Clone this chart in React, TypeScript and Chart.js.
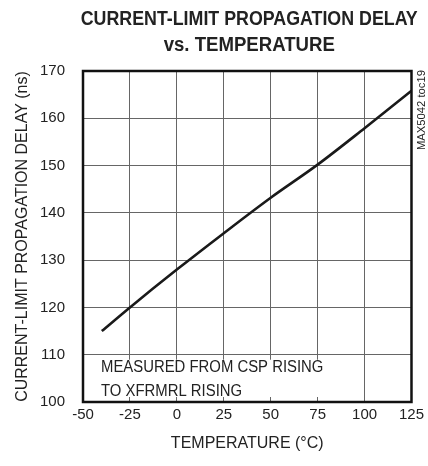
import React, { useEffect, useRef } from "react";
import { Chart, registerables } from "chart.js";

Chart.register(...registerables);

const temperatures = [-40, -25, 0, 25, 50, 75, 100, 125];
const delays = [115, 120, 128, 135.7, 143.2, 150.2, 157.9, 165.8];
const titleLines = ["CURRENT-LIMIT PROPAGATION DELAY", "vs. TEMPERATURE"];
const xTitle = "TEMPERATURE (°C)";
const yTitle = "CURRENT-LIMIT PROPAGATION DELAY (ns)";
const noteLines = ["MEASURED FROM CSP RISING", "TO XFRMRL RISING"];
const tocLabel = "MAX5042 toc19";

const FONT = "'Liberation Sans', Arial, sans-serif";

function narrowText(ctx: any, text: string, x: number, y: number, squeeze: number) {
  const w = ctx.measureText(text).width;
  ctx.fillText(text, x, y, w * squeeze);
}

const decorPlugin = {
  id: "decor",
  beforeDatasetsDraw(chart: any) {
    const { ctx, chartArea, scales } = chart;
    const x = scales.x;
    const y = scales.y;
    const left = chartArea.left + 1;
    const right = x.getPixelForValue(100) - 1;
    const top = y.getPixelForValue(110) + 5;
    const bottom = y.getPixelForValue(100) - 5;
    ctx.save();
    ctx.fillStyle = "#ffffff";
    ctx.fillRect(left, top, right - left, bottom - top);
    ctx.restore();
  },
  afterDatasetsDraw(chart: any) {
    const { ctx, chartArea, scales } = chart;
    const y = scales.y;
    ctx.save();
    ctx.strokeStyle = "#111";
    ctx.lineWidth = 2.5;
    ctx.strokeRect(chartArea.left, chartArea.top, chartArea.right - chartArea.left, chartArea.bottom - chartArea.top);

    // title
    ctx.fillStyle = "#222";
    ctx.textAlign = "center";
    ctx.textBaseline = "middle";
    ctx.font = `bold 20px ${FONT}`;
    const cx = (chartArea.left + chartArea.right) / 2 + 2;
    ctx.fillText(titleLines[0], cx, chartArea.top - 52, 337);
    narrowText(ctx, titleLines[1], cx, chartArea.top - 26, 0.93);

    // note
    ctx.font = `16px ${FONT}`;
    ctx.textAlign = "left";
    const y110 = y.getPixelForValue(110);
    narrowText(ctx, noteLines[0], chartArea.left + 18, y110 + 13, 0.93);
    narrowText(ctx, noteLines[1], chartArea.left + 18, y110 + 36.5, 0.93);

    // side label
    ctx.translate(chartArea.right + 10, chartArea.top + 39);
    ctx.rotate(-Math.PI / 2);
    ctx.textAlign = "center";
    ctx.font = `11.5px ${FONT}`;
    ctx.fillText(tocLabel, 0, 0, 80);
    ctx.restore();
  },
};

export default function App() {
  const ref = useRef<HTMLCanvasElement>(null);
  useEffect(() => {
    if (!ref.current) return;
    const chart = new Chart(ref.current, {
      type: "line",
      data: {
        datasets: [
          {
            data: temperatures.map((t, i) => ({ x: t, y: delays[i] })),
            borderColor: "#1a1a1a",
            borderWidth: 2.6,
            pointRadius: 0,
            cubicInterpolationMode: "monotone",
            fill: false,
          },
        ],
      },
      options: {
        animation: false,
        responsive: true,
        maintainAspectRatio: false,
        layout: { padding: { left: 0, right: 15, top: 71, bottom: 0 } },
        plugins: {
          legend: { display: false },
          tooltip: { enabled: false },
          title: { display: false },
        },
        scales: {
          x: {
            type: "linear",
            min: -50,
            max: 125,
            afterFit: (s: any) => {
              s.height = 64;
            },
            ticks: {
              stepSize: 25,
              color: "#222",
              padding: 4,
              font: { family: FONT, size: 15 },
            },
            grid: { color: "#666", lineWidth: 1, drawTicks: false },
            border: { display: false },
            title: {
              display: true,
              text: xTitle,
              color: "#222",
              font: { family: FONT, size: 16 },
              padding: { top: 0, bottom: 12.8 },
            },
          },
          y: {
            type: "linear",
            min: 100,
            max: 170,
            afterFit: (s: any) => {
              s.width = 83;
            },
            ticks: {
              stepSize: 10,
              color: "#222",
              padding: 18,
              font: { family: FONT, size: 15 },
            },
            grid: { color: "#666", lineWidth: 1, drawTicks: false },
            border: { display: false },
            title: {
              display: true,
              text: yTitle,
              color: "#222",
              font: { family: FONT, size: 16 },
              padding: { top: 12.5, bottom: 0 },
            },
          },
        },
      },
      plugins: [decorPlugin],
    } as any);
    return () => chart.destroy();
  }, []);
  return (
    <div style={{ position: "absolute", left: 0, top: 0, width: 428, height: 466, background: "#fff" }}>
      <canvas ref={ref} />
    </div>
  );
}
